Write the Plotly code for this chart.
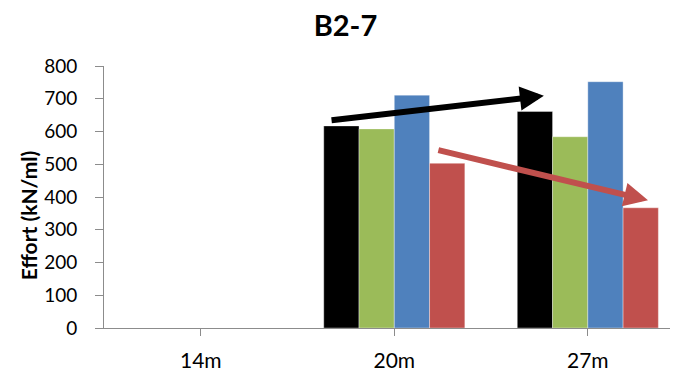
import plotly.graph_objects as go

categories = ["14m", "20m", "27m"]
series_names = ["S1", "S2", "S3", "S4"]
series_colors = ["#000000", "#9BBB59", "#4F81BD", "#C0504D"]
values_s1 = [None, 617, 661]
values_s2 = [None, 608, 584]
values_s3 = [None, 711, 752]
values_s4 = [None, 503, 367]
all_values = [values_s1, values_s2, values_s3, values_s4]

# trend arrows (data coords: x in category index units, y in kN/ml)
arrow_black = {"x0": 0.668, "y0": 634, "x1": 1.773, "y1": 709, "color": "#000000"}
arrow_red = {"x0": 1.22, "y0": 544, "x1": 2.311, "y1": 390, "color": "#C0504D"}
y_ticks = [0, 100, 200, 300, 400, 500, 600, 700, 800]

fig = go.Figure()
for name, col, vals in zip(series_names, series_colors, all_values):
    fig.add_trace(go.Bar(
        x=list(range(len(categories))), y=vals, name=name,
        marker=dict(color=col, line=dict(color="rgba(255,255,255,0.6)", width=0.6)),
    ))

for a in [arrow_black, arrow_red]:
    fig.add_annotation(
        x=a["x1"], y=a["y1"], ax=a["x0"], ay=a["y0"],
        xref="x", yref="y", axref="x", ayref="y",
        showarrow=True, arrowhead=2, arrowsize=0.8, arrowwidth=6,
        arrowcolor=a["color"], text="",
    )

fig.add_annotation(
    text="<b>Effort (kN/ml)</b>", xref="paper", yref="paper", x=-0.131, y=0.43,
    xanchor="center", yanchor="middle", textangle=-90, showarrow=False,
    font=dict(size=21),
)

fig.update_layout(
    width=670, height=366,
    margin=dict(l=96, r=0, t=58, b=46, autoexpand=False),
    paper_bgcolor="white", plot_bgcolor="white",
    barmode="group", bargap=0.271, bargroupgap=0,
    showlegend=False,
    font=dict(family="Lato, Open Sans, sans-serif", color="#000000", size=20),
    title=dict(text="<b>B2-7</b>", x=0.5037, xanchor="center", y=0.952, yanchor="middle",
               font=dict(size=29), automargin=False),
)
fig.update_xaxes(
    tickmode="array", tickvals=list(range(len(categories))), ticktext=categories,
    range=[-0.5, 2.466], showline=True, linecolor="#8C8C8C", linewidth=1,
    ticks="outside", ticklen=7, tickcolor="#8C8C8C", tickson="boundaries",
    showgrid=False, tickfont=dict(size=21), fixedrange=True, automargin=False,
    ticklabelstandoff=7,
)
fig.update_yaxes(
    range=[0, 800], tickvals=y_ticks, showline=True, linecolor="#8C8C8C", linewidth=1,
    ticks="outside", ticklen=8, tickcolor="#8C8C8C", showgrid=False, zeroline=False,
    tickfont=dict(size=19), automargin=False, ticklabelstandoff=14,
)

fig.write_html("out.html")
